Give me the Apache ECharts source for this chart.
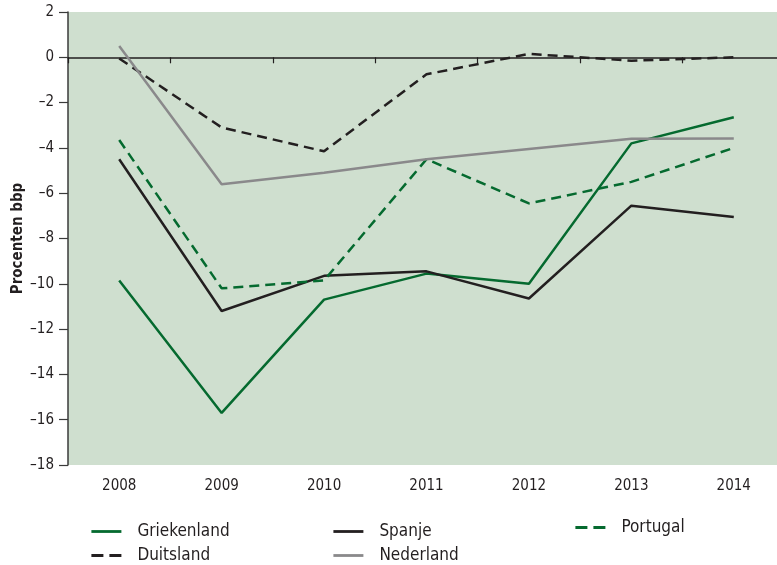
<!DOCTYPE html>
<html>
<head>
<meta charset="utf-8">
<script src="https://cdn.jsdelivr.net/npm/echarts@6/dist/echarts.min.js"></script>
<style>
  html, body { margin: 0; padding: 0; background: #fff; }
  #chart { width: 777px; height: 565px; }
</style>
</head>
<body>
<div id="chart"></div>
<script>
// jaren
const years = ['2008', '2009', '2010', '2011', '2012', '2013', '2014'];

// begrotingssaldo in procenten bbp
const griekenland = [-9.85, -15.7, -10.7, -9.55, -10.0, -3.8, -2.65];
const spanje = [-4.5, -11.2, -9.65, -9.45, -10.65, -6.55, -7.05];
const portugal = [-3.65, -10.2, -9.85, -4.5, -6.45, -5.5, -4.0];
const duitsland = [-0.05, -3.1, -4.15, -0.75, 0.15, -0.15, 0.0];
const nederland = [0.5, -5.6, -5.1, -4.5, -4.05, -3.6, -3.58];

const yTicks = [2, 0, -2, -4, -6, -8, -10, -12, -14, -16, -18];

const FONT = "'Liberation Sans Narrow', 'DejaVu Sans Condensed', 'Liberation Sans', sans-serif";
const GREEN = '#056a2f';
const BLACK = '#231f20';
const GREY = '#8a898b';

const chart = echarts.init(document.getElementById('chart'));

const lineSeries = (name, data, color, type) => ({
  name: name,
  type: 'line',
  data: data,
  symbol: 'none',
  xAxisIndex: 0,
  lineStyle: { color: color, width: 2.5, type: type === 'dashed' ? [10, 6] : 'solid' },
  itemStyle: { color: color },
  emphasis: { disabled: true }
});

// legenda: alleen de lijn, geen symbool
const legendBase = {
  orient: 'vertical',
  padding: 0,
  itemWidth: 30,
  itemHeight: 14,
  itemGap: 7,
  itemStyle: { color: 'transparent', borderColor: 'transparent', borderWidth: 0, opacity: 0 },
  lineStyle: { width: 2.8 },
  textStyle: { fontFamily: FONT, fontSize: 17, lineHeight: 17, color: '#231f20', padding: [0, 0, 0, 11] }
};
const dashedItem = name => ({ name: name, lineStyle: { type: [12, 6] } });

const option = {
  animation: false,
  grid: {
    left: 68,
    top: 12,
    width: 717,
    height: 453,
    outerBoundsMode: 'none',
    show: true,
    backgroundColor: '#cfdfcf',
    borderWidth: 0
  },
  legend: [
    Object.assign({}, legendBase, { left: 90, top: 523, data: ['Griekenland', dashedItem('Duitsland')] }),
    Object.assign({}, legendBase, { left: 332, top: 523, data: ['Spanje', 'Nederland'] }),
    Object.assign({}, legendBase, { left: 574, top: 519, data: [dashedItem('Portugal')] })
  ],
  xAxis: [
    {
      type: 'category',
      data: years,
      boundaryGap: true,
      position: 'bottom',
      axisLine: { onZero: true, lineStyle: { color: BLACK, width: 1.5 } },
      axisTick: { show: true, length: 6, lineStyle: { color: BLACK, width: 1.2 } },
      axisLabel: { show: false },
      splitLine: { show: false }
    },
    {
      type: 'category',
      data: years,
      boundaryGap: true,
      position: 'bottom',
      axisLine: { show: false, onZero: false },
      axisTick: { show: false },
      axisLabel: { margin: 14, fontFamily: FONT, fontSize: 15, color: BLACK },
      splitLine: { show: false }
    }
  ],
  yAxis: {
    type: 'value',
    min: -18,
    max: 2,
    interval: 2,
    name: 'Procenten bbp',
    nameLocation: 'middle',
    nameGap: 42,
    nameMoveOverlap: false,
    nameTextStyle: { fontFamily: FONT, fontSize: 15, fontWeight: 'bold', color: BLACK },
    axisLine: { show: true, lineStyle: { color: '#3a3a3a', width: 1.5 } },
    axisTick: { show: true, length: 9, lineStyle: { color: '#3a3a3a', width: 1.2 } },
    axisLabel: {
      margin: 14,
      fontFamily: FONT,
      fontSize: 15,
      color: BLACK,
      formatter: v => (yTicks.includes(v) ? String(v).replace('-', '\u2013') : '')
    },
    splitLine: { show: false }
  },
  series: [
    lineSeries('Griekenland', griekenland, GREEN, 'solid'),
    lineSeries('Spanje', spanje, BLACK, 'solid'),
    lineSeries('Portugal', portugal, GREEN, 'dashed'),
    lineSeries('Duitsland', duitsland, BLACK, 'dashed'),
    lineSeries('Nederland', nederland, GREY, 'solid')
  ]
};

chart.setOption(option);
</script>
</body>
</html>
